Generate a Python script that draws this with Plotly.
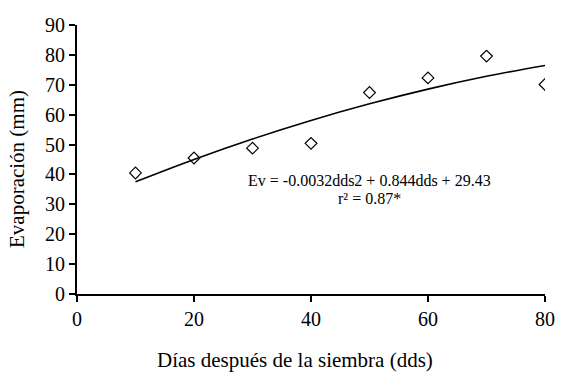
import plotly.graph_objects as go

dds = [10, 20, 30, 40, 50, 60, 70, 80]
evap = [40.5, 45.5, 48.8, 50.4, 67.4, 72.3, 79.6, 70.1]
# fitted curve values read at the same days
fit_x = [10, 20, 30, 40, 50, 60, 70, 80]
fit_y = [37.55, 45.03, 51.87, 58.07, 63.63, 68.55, 72.83, 76.47]

eq_lines = ["Ev = -0.0032dds2 + 0.844dds + 29.43", "r² = 0.87*"]

font = "Liberation Serif, Times New Roman, serif"

fig = go.Figure()
fig.add_trace(go.Scatter(x=fit_x, y=fit_y, mode="lines", line=dict(color="black", width=1.6, shape="spline"),
                         showlegend=False, hoverinfo="skip"))
fig.add_trace(go.Scatter(x=dds, y=evap, mode="markers",
                         marker=dict(symbol="diamond-open", size=9, color="black", line=dict(width=1.2)),
                         showlegend=False))

for txt, yy in zip(eq_lines, [38.1, 32.1]):
    fig.add_annotation(x=50.0, y=yy, xref="x", yref="y", xanchor="center", yanchor="middle", showarrow=False,
                       text=txt, font=dict(family=font, size=16, color="black"))

# axis titles
fig.add_annotation(x=(295 - 77) / 468, y=-(360 - 294) / 269, xref="paper", yref="paper",
                   xanchor="center", yanchor="middle", showarrow=False,
                   text="Días después de la siembra (dds)", font=dict(family=font, size=21, color="black"))
fig.add_annotation(x=-(77 - 17) / 468, y=(294 - 169) / 269, xref="paper", yref="paper",
                   xanchor="center", yanchor="middle", showarrow=False, textangle=-90,
                   text="Evaporación (mm)", font=dict(family=font, size=21, color="black"))

fig.update_layout(
    width=564, height=383,
    margin=dict(l=77, r=19, t=25, b=89, autoexpand=False),
    plot_bgcolor="white", paper_bgcolor="white",
    font=dict(family=font, color="black"),
    hovermode=False,
    xaxis=dict(range=[0, 80], tickvals=[0, 20, 40, 60, 80], showgrid=False, zeroline=False, automargin=False,
               showline=True, linecolor="black", linewidth=2, ticks="outside", ticklen=6, tickwidth=2,
               tickcolor="black", tickfont=dict(size=20, family=font)),
    yaxis=dict(range=[0, 90], tickvals=list(range(0, 91, 10)), showgrid=False, zeroline=False, automargin=False,
               showline=True, linecolor="black", linewidth=2, ticks="outside", ticklen=6, tickwidth=2,
               tickcolor="black", tickfont=dict(size=20, family=font)),
)
fig.write_html("out.html", config={"displayModeBar": False, "staticPlot": True})

# remove the browser's default page margin so the figure sits at the window origin
with open("out.html", "r", encoding="utf-8") as f:
    html = f.read()
html = html.replace("<body>", '<body style="margin:0;padding:0;">', 1)
with open("out.html", "w", encoding="utf-8") as f:
    f.write(html)
